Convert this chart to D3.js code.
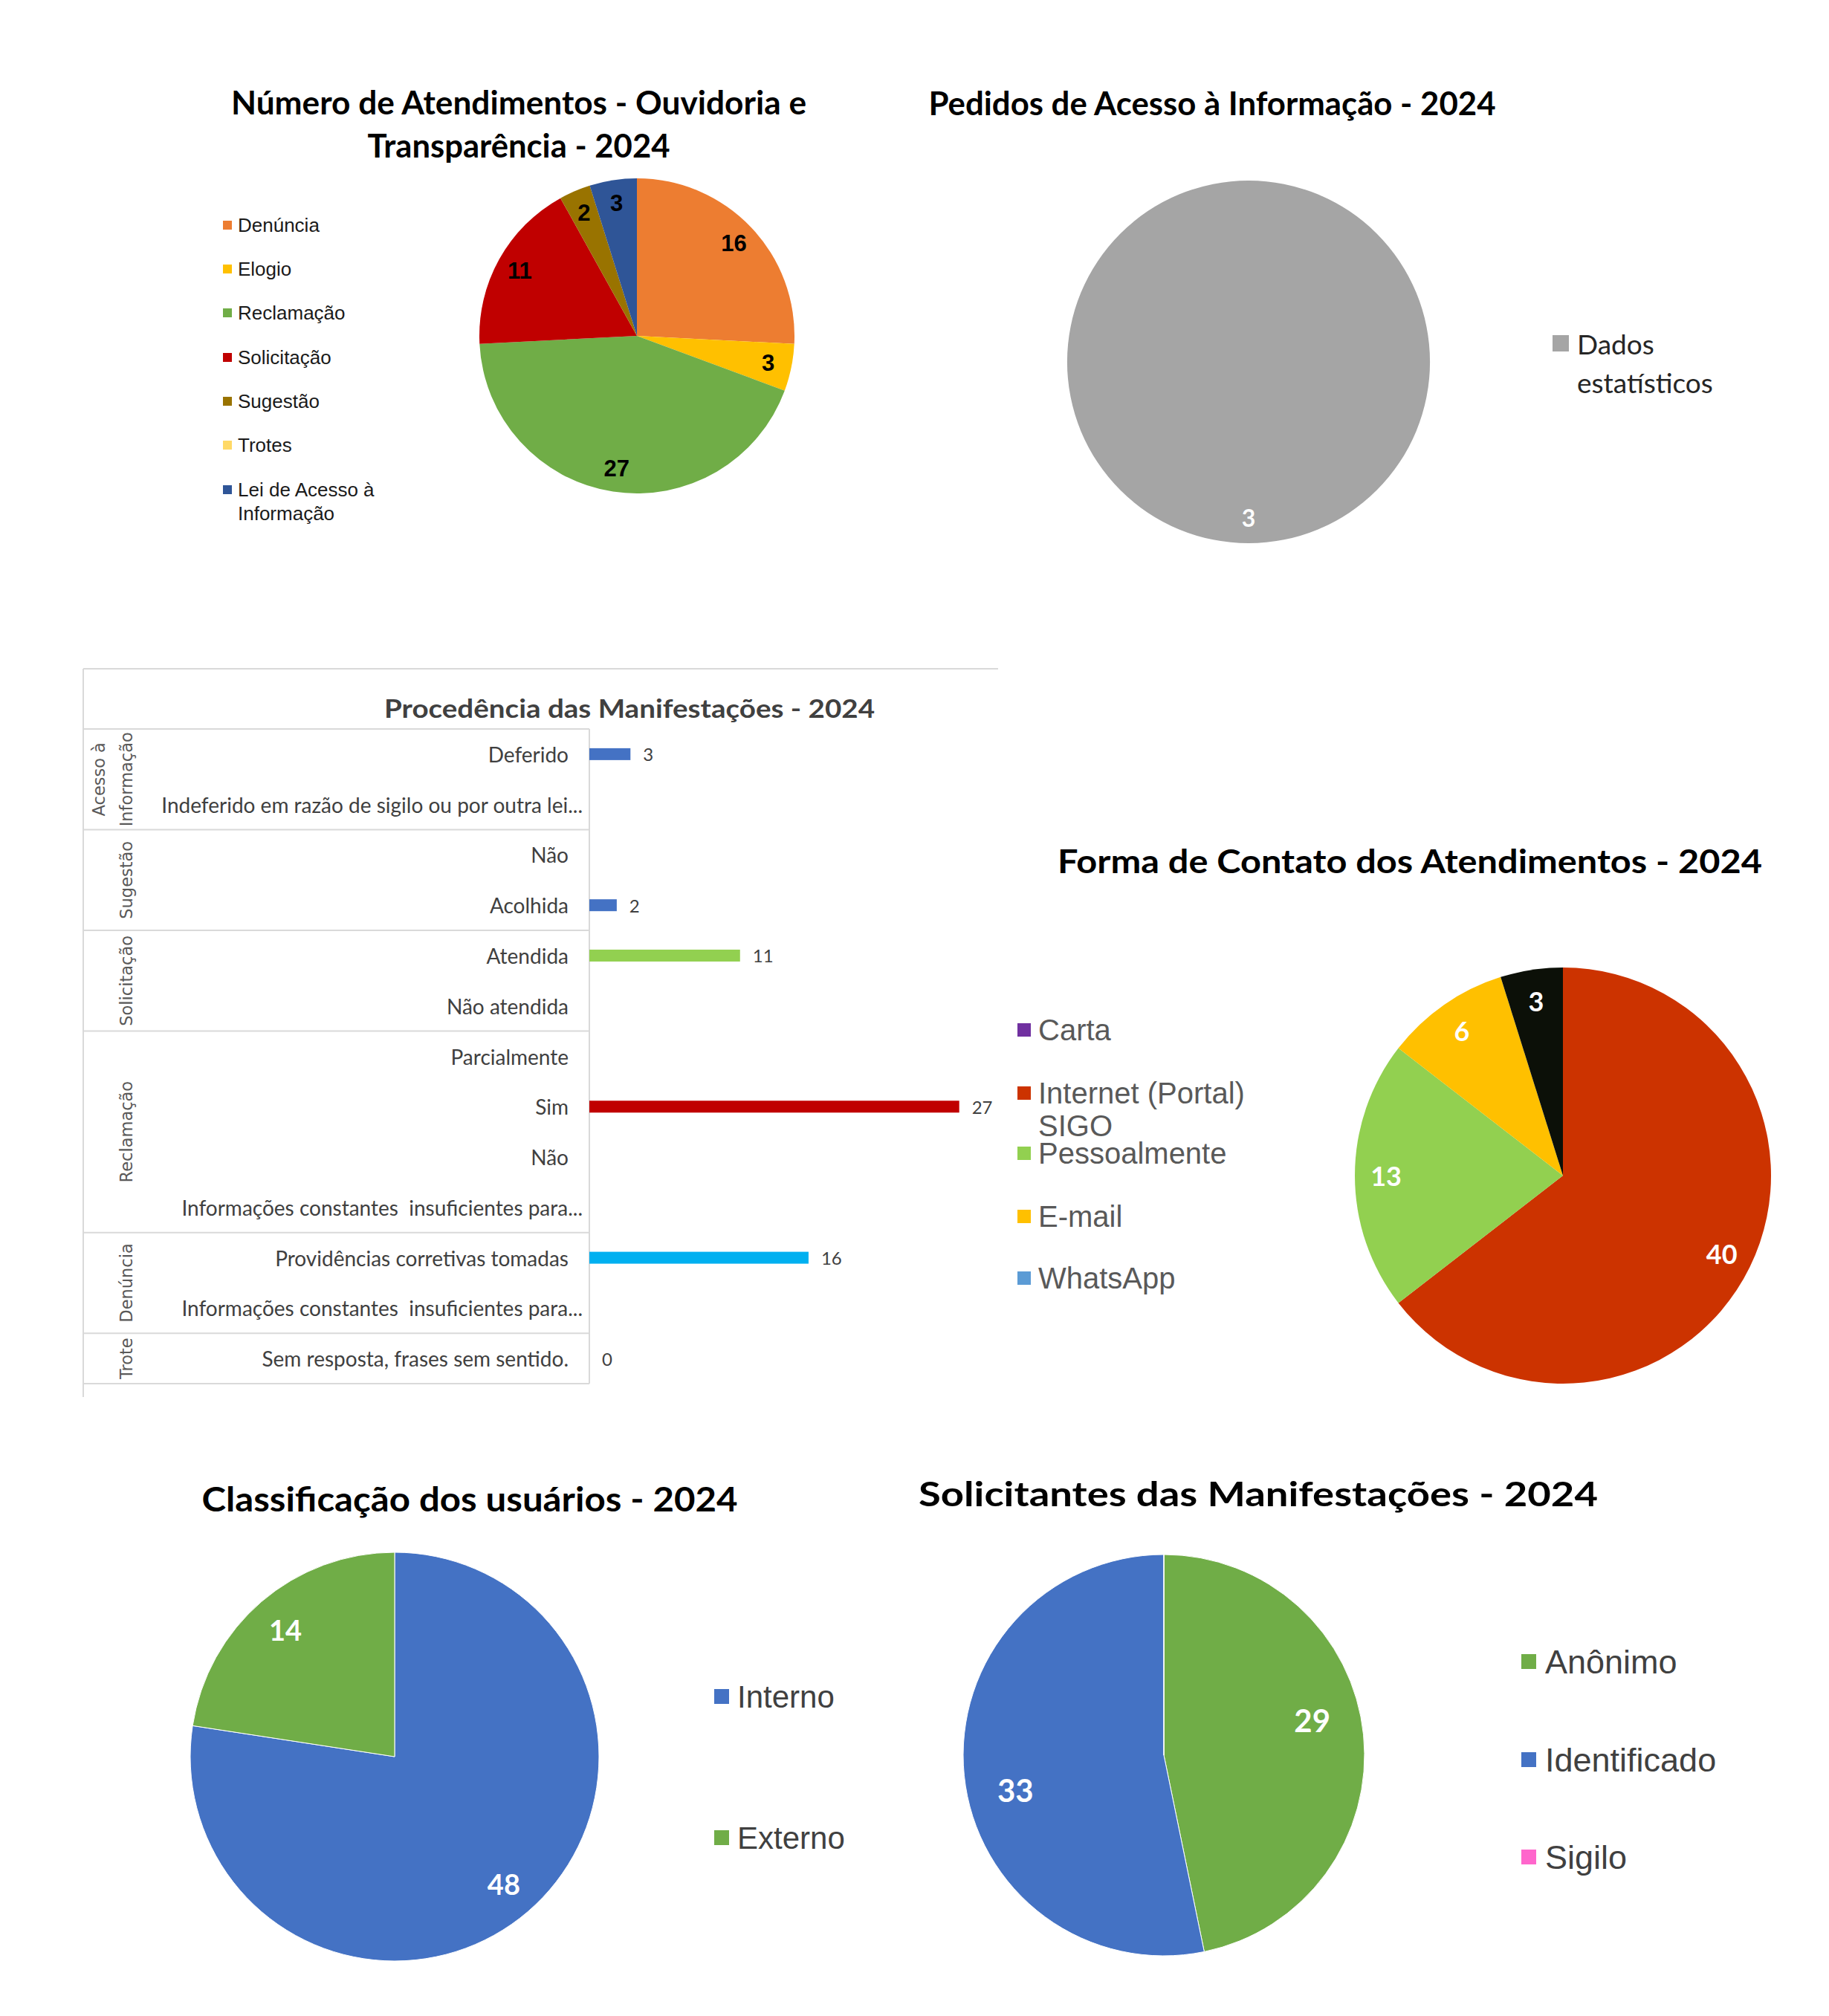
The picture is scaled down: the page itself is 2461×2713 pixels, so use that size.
<!DOCTYPE html>
<html><head><meta charset="utf-8">
<script src="https://cdn.jsdelivr.net/npm/d3@7"></script>
<style>body{margin:0;background:#fff}</style>
</head><body>
<script>
// ---------- DATA ----------
const atendCategories = ["Denúncia","Elogio","Reclamação","Solicitação","Sugestão","Trotes","Lei de Acesso à Informação"];
const atendValues = [16,3,27,11,2,0,3];

const pedidosCategories = ["Dados estatísticos"];
const pedidosValues = [3];

const procGroups = ["Acesso à Informação","Sugestão","Solicitação","Reclamação","Denúncia","Trote"];
const procItems = ["Deferido","Indeferido em razão de sigilo ou por outra lei...","Não","Acolhida","Atendida","Não atendida","Parcialmente","Sim","Não","Informações constantes  insuficientes para...","Providências corretivas tomadas","Informações constantes  insuficientes para...","Sem resposta, frases sem sentido."];
const procItemGroup = [0,0,1,1,2,2,3,3,3,3,4,4,5];
const procValues = [3,null,null,2,11,null,null,27,null,null,16,null,0];

const contatoCategories = ["Carta","Internet (Portal) SIGO","Pessoalmente","E-mail","WhatsApp"];
const contatoValues = [0,40,13,6,3];

const usuariosCategories = ["Interno","Externo"];
const usuariosValues = [48,14];

const solicitantesCategories = ["Anônimo","Identificado","Sigilo"];
const solicitantesValues = [29,33,0];

// ---------- STYLES ----------
const atendColors = ["#ED7D31","#FFC000","#70AD47","#C00000","#997300","#FFD966","#2F5597"];
const pedidosColors = ["#A5A5A5"];
const procBarColors = ["#4472C4",null,null,"#4472C4","#92D050",null,null,"#C00000",null,null,"#00B0F0",null,"#4472C4"];
const contatoSliceColors = ["#7030A0","#CC3300","#92D050","#FFC000","#0C1008"];
const contatoLegendColors = ["#7030A0","#CC3300","#92D050","#FFC000","#5B9BD5"];
const usuariosColors = ["#4472C4","#70AD47"];
const solicitantesColors = ["#70AD47","#4472C4","#FF66CC"];

const CAL = "Lato, Carlito, Calibri, sans-serif";
const ARI = "'Liberation Sans', Arial, sans-serif";

const W = 2461, H = 2713;
const svg = d3.select("body").append("svg").attr("width", W).attr("height", H)
  .style("background","#fff");

function title(lines, cx, y0, lh, size, width, color) {
  lines.forEach((t,i) => {
    const el = svg.append("text").attr("x", cx).attr("y", y0 + i*lh)
      .attr("text-anchor","middle").attr("dominant-baseline","central")
      .attr("font-family", CAL).attr("font-weight","bold").attr("font-size", size)
      .attr("fill", color || "#000").text(t);
    if (width && width[i]) el.attr("textLength", width[i]).attr("lengthAdjust","spacingAndGlyphs");
  });
}

function pie(values, colors, cx, cy, r, labelFrac, o) {
  const g = svg.append("g").attr("transform", `translate(${cx},${cy})`);
  const arcs = d3.pie().sort(null).value(d => d)(values);
  const arc = d3.arc().innerRadius(0).outerRadius(r);
  const lab = d3.arc().innerRadius(r*labelFrac).outerRadius(r*labelFrac);
  const off = (o.angleOffset || 0) * Math.PI / 180;
  g.selectAll("path").data(arcs).join("path")
    .attr("d", arc).attr("fill", (d,i) => colors[i])
    .attr("stroke", "#fff").attr("stroke-width", o.stroke || 0);
  g.selectAll("text").data(arcs.filter(d => d.data > 0)).join("text")
    .attr("transform", d => `translate(${lab.centroid({startAngle: d.startAngle + off, endAngle: d.endAngle + off})})`)
    .attr("text-anchor","middle").attr("dominant-baseline","central")
    .attr("font-family", o.font).attr("font-weight","bold")
    .attr("font-size", o.size).attr("fill", o.color)
    .text(d => d.data);
}

// ---------- CHART 1 ----------
title(["Número de Atendimentos - Ouvidoria e","Transparência - 2024"], 698, 137, 58, 44, [774, 407]);
pie(atendValues, atendColors, 857, 452, 212, 0.85, {font: ARI, size: 31, color: "#000"});
{
  const ys = [303,362,421,481,540,599,659];
  atendCategories.forEach((c,i) => {
    svg.append("rect").attr("x", 300).attr("y", ys[i]-6).attr("width", 12).attr("height", 12).attr("fill", atendColors[i]);
    const t = svg.append("text").attr("x", 320).attr("y", ys[i]).attr("dominant-baseline","central")
      .attr("font-family", ARI).attr("font-size", 26).attr("fill","#1a1a1a");
    if (c === "Lei de Acesso à Informação") {
      t.append("tspan").attr("x",320).text("Lei de Acesso à");
      t.append("tspan").attr("x",320).attr("dy", 32).text("Informação");
    } else t.text(c);
  });
}

// ---------- CHART 2 ----------
title(["Pedidos de Acesso à Informação - 2024"], 1631, 138, 0, 44, [763]);
pie(pedidosValues, pedidosColors, 1680, 487, 244, 0.86, {font: CAL, size: 32, color: "#fff"});
svg.append("rect").attr("x", 2089).attr("y", 451).attr("width", 22).attr("height", 22).attr("fill", pedidosColors[0]);
svg.append("text").attr("x", 2122).attr("y", 462).attr("dominant-baseline","central")
  .attr("font-family", CAL).attr("font-size", 37).attr("fill","#262626").text("Dados");
svg.append("text").attr("x", 2122).attr("y", 514).attr("dominant-baseline","central")
  .attr("font-family", CAL).attr("font-size", 37).attr("fill","#262626").text("estatísticos");

// ---------- CHART 3 (bars) ----------
{
  const grid = "#D9D9D9";
  svg.append("line").attr("x1",112).attr("x2",1343).attr("y1",900).attr("y2",900).attr("stroke",grid).attr("stroke-width",2);
  svg.append("line").attr("x1",112).attr("x2",112).attr("y1",900).attr("y2",1880).attr("stroke",grid).attr("stroke-width",2);
  title(["Procedência das Manifestações - 2024"], 847, 952, 0, 34, [660], "#404040");

  const y = d3.scaleBand().domain(d3.range(procItems.length)).range([981, 1862]);
  const x = d3.scaleLinear().domain([0, 30]).range([793, 1346]);
  const bh = 16;

  const groupStarts = procGroups.map((g,gi) => procItemGroup.indexOf(gi));
  groupStarts.forEach(s => {
    svg.append("line").attr("x1",112).attr("x2",x(0)).attr("y1",y(s)).attr("y2",y(s)).attr("stroke",grid).attr("stroke-width",2);
  });
  svg.append("line").attr("x1",112).attr("x2",x(0)).attr("y1",y.range()[1]).attr("y2",y.range()[1]).attr("stroke",grid).attr("stroke-width",2);
  svg.append("line").attr("x1",x(0)).attr("x2",x(0)).attr("y1",y.range()[0]).attr("y2",y.range()[1]).attr("stroke",grid).attr("stroke-width",2);

  procGroups.forEach((g,gi) => {
    const idx = d3.range(procItems.length).filter(i => procItemGroup[i] === gi);
    const cy = d3.mean(idx, i => y(i) + y.bandwidth()/2);
    const lines = g === "Acesso à Informação" ? ["Acesso à","Informação"] : [g];
    lines.forEach((l,li) => {
      const cx = lines.length === 2 ? (li === 0 ? 133 : 170) : 170;
      svg.append("text").attr("transform", `translate(${cx},${cy}) rotate(-90)`)
        .attr("text-anchor","middle").attr("dominant-baseline","central")
        .attr("font-family","'DejaVu Sans', Verdana, sans-serif").attr("font-size", 22.5)
        .attr("fill","#595959").text(l);
    });
  });

  procItems.forEach((t,i) => {
    svg.append("text").attr("x", t.endsWith("...") ? 784 : 765).attr("y", y(i)+y.bandwidth()/2)
      .attr("text-anchor","end").attr("dominant-baseline","central")
      .style("white-space","pre")
      .attr("font-family", CAL).attr("font-size", 28).attr("fill","#404040").text(t);
  });

  procValues.forEach((v,i) => {
    if (v === null) return;
    const cy = y(i)+y.bandwidth()/2;
    if (v > 0) svg.append("rect").attr("x", x(0)).attr("y", cy-bh/2).attr("width", x(v)-x(0)).attr("height", bh)
      .attr("fill", procBarColors[i]);
    svg.append("text").attr("x", x(v)+17).attr("y", cy).attr("dominant-baseline","central")
      .attr("font-family", CAL).attr("font-size", 24).attr("fill","#404040").text(v);
  });
}

// ---------- CHART 4 ----------
title(["Forma de Contato dos Atendimentos - 2024"], 1897, 1158, 0, 44, [948]);
pie(contatoValues, contatoSliceColors, 2103, 1582, 280, 0.85, {font: CAL, size: 36, color: "#fff"});
{
  const ys = [1386,1471,1552,1637,1720];
  contatoCategories.forEach((c,i) => {
    svg.append("rect").attr("x", 1369).attr("y", ys[i]-9).attr("width", 18).attr("height", 18).attr("fill", contatoLegendColors[i]);
    const t = svg.append("text").attr("x", 1397).attr("y", ys[i]).attr("dominant-baseline","central")
      .attr("font-family", ARI).attr("font-size", 40).attr("fill","#595959");
    if (c === "Internet (Portal) SIGO") {
      t.append("tspan").attr("x",1397).text("Internet (Portal)");
      t.append("tspan").attr("x",1397).attr("dy", 44).text("SIGO");
    } else t.text(c);
  });
}

// ---------- CHART 5 ----------
title(["Classificação dos usuários - 2024"], 632, 2016, 0, 46, [721]);
pie(usuariosValues, usuariosColors, 531, 2364, 275, 0.82, {font: CAL, size: 38, color: "#fff", stroke: 1});
{
  const ys = [2283, 2473];
  usuariosCategories.forEach((c,i) => {
    svg.append("rect").attr("x", 961).attr("y", ys[i]-10).attr("width", 20).attr("height", 20).attr("fill", usuariosColors[i]);
    svg.append("text").attr("x", 992).attr("y", ys[i]).attr("dominant-baseline","central")
      .attr("font-family", ARI).attr("font-size", 42).attr("fill","#404040").text(c);
  });
}

// ---------- CHART 6 ----------
title(["Solicitantes das Manifestações - 2024"], 1693, 2009, 0, 46, [914]);
pie(solicitantesValues, solicitantesColors, 1566, 2362, 270, 0.76, {font: CAL, size: 42, color: "#fff", stroke: 1, angleOffset: -7.5});
{
  const ys = [2236, 2368, 2499];
  solicitantesCategories.forEach((c,i) => {
    svg.append("rect").attr("x", 2047).attr("y", ys[i]-10).attr("width", 20).attr("height", 20).attr("fill", solicitantesColors[i]);
    svg.append("text").attr("x", 2079).attr("y", ys[i]).attr("dominant-baseline","central")
      .attr("font-family", ARI).attr("font-size", 45).attr("fill","#404040").text(c);
  });
}
</script>
</body></html>
